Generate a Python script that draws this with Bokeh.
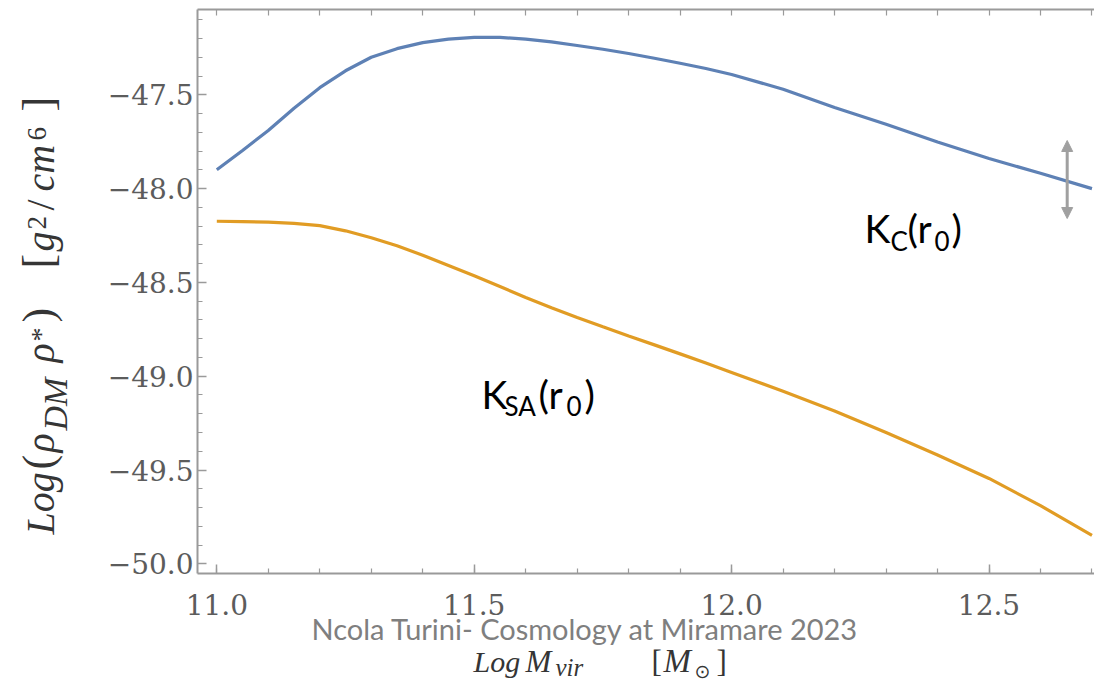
from math import pi
from bokeh.plotting import figure
from bokeh.models import (LinearAxis, Range1d, FixedTicker, Label, Arrow, NormalHead)
from bokeh.embed import file_html
from bokeh.resources import INLINE

# ---------------- data ----------------
kc_logm = [11.0, 11.05, 11.1, 11.15, 11.2, 11.25, 11.3, 11.35, 11.4, 11.45, 11.5, 11.55,
           11.6, 11.65, 11.7, 11.75, 11.8, 11.85, 11.9, 11.95, 12.0, 12.1, 12.2, 12.3,
           12.4, 12.5, 12.6, 12.7]
kc_val = [-47.90, -47.797, -47.69, -47.572, -47.462, -47.372, -47.30, -47.254, -47.222,
          -47.203, -47.194, -47.194, -47.203, -47.218, -47.237, -47.257, -47.28, -47.305,
          -47.332, -47.36, -47.392, -47.47, -47.568, -47.657, -47.752, -47.84, -47.918, -48.0]

ksa_logm = [11.0, 11.05, 11.1, 11.15, 11.2, 11.25, 11.3, 11.35, 11.4, 11.45, 11.5, 11.55,
            11.6, 11.65, 11.7, 11.75, 11.8, 11.85, 11.9, 11.95, 12.0, 12.1, 12.2, 12.3,
            12.4, 12.5, 12.6, 12.7]
ksa_val = [-48.174, -48.176, -48.179, -48.185, -48.197, -48.225, -48.262, -48.305, -48.355,
           -48.41, -48.465, -48.522, -48.58, -48.635, -48.687, -48.737, -48.786, -48.833,
           -48.881, -48.93, -48.98, -49.08, -49.185, -49.30, -49.42, -49.545, -49.69, -49.848]

x_ticks = [11.0, 11.5, 12.0, 12.5]
x_tick_labels = ["11.0", "11.5", "12.0", "12.5"]
y_ticks = [-50.0, -49.5, -49.0, -48.5, -48.0, -47.5]
y_tick_labels = ["\u221250.0", "\u221249.5", "\u221249.0", "\u221248.5", "\u221248.0", "\u221247.5"]
x_minor = [k / 10 for k in range(109, 128)]
y_minor = [k / 10 for k in range(-501, -469)]

footer_text = "Ncola Turini- Cosmology at Miramare 2023"

# ---------------- geometry (picture pixels) ----------------
W, H = 1094, 682
BL, BT, BB = 197, 9, 109
X0, X1 = 10.9625, 12.7049
Y0, Y1 = -50.0517, -47.0453
FW, FH = W - BL, H - BT - BB
SX = FW / (X1 - X0)
SY = FH / (Y1 - Y0)
K_BASE = 0.36  # observed baseline drop of Label text, in em


def dx(px):
    return X0 + (px - BL) / SX


def dy(py):
    return Y1 - (py - BT) / SY


AX = "#9a9a9a"
TICK_TXT = "#5c5c5c"
TITLE_TXT = "#353535"

p = figure(width=W, height=H, x_range=Range1d(X0, X1), y_range=Range1d(Y0, Y1),
           output_backend="svg", toolbar_location=None,
           min_border_left=BL, min_border_right=0, min_border_top=BT, min_border_bottom=BB)
p.outline_line_color = None
p.grid.visible = False
p.background_fill_color = "white"
p.border_fill_color = "white"


def style_axis(ax, ticks, minor, labels):
    ax.ticker = FixedTicker(ticks=ticks, minor_ticks=minor)
    ax.axis_line_color = AX
    ax.axis_line_width = 2
    ax.major_tick_line_color = AX
    ax.major_tick_line_width = 1.5
    ax.major_tick_in = 9
    ax.major_tick_out = 0
    ax.minor_tick_line_color = AX
    ax.minor_tick_line_width = 1.2
    ax.minor_tick_in = 5
    ax.minor_tick_out = 0
    if labels is not None:
        ax.major_label_overrides = {t: s for t, s in zip(ticks, labels)}
        ax.major_label_text_font = "DejaVu Serif"
        ax.major_label_text_font_size = "28px"
        ax.major_label_text_color = TICK_TXT


xa = p.xaxis[0]
style_axis(xa, x_ticks, x_minor, x_tick_labels)
xa.major_label_standoff = 20
ya = p.yaxis[0]
style_axis(ya, y_ticks, y_minor, y_tick_labels)
ya.major_label_standoff = 4

top = LinearAxis()
style_axis(top, [], x_minor, None)
top.minor_tick_in = 6
top.major_label_standoff = 0
p.add_layout(top, "above")

# ---------------- curves ----------------
p.line(kc_logm, kc_val, line_color="#5E81B5", line_width=3.2)
p.line(ksa_logm, ksa_val, line_color="#E19C24", line_width=3.2)

# ---------------- arrow ----------------
arr_x = dx(1066.7)
p.add_layout(Arrow(x_start=arr_x, y_start=dy(218), x_end=arr_x, y_end=dy(140),
                   line_color="#a0a0a0", line_width=3,
                   start=NormalHead(size=11, fill_color="#a0a0a0", line_color="#a0a0a0"),
                   end=NormalHead(size=11, fill_color="#a0a0a0", line_color="#a0a0a0")))


def lab(fig, conv, text, px, py, size, font, style="normal", color="black", rotated=False):
    # px, py: wanted baseline-start point in picture pixels
    if rotated:
        px = px - K_BASE * size
    else:
        py = py - K_BASE * size
    x, y = conv(px, py)
    fig.add_layout(Label(x=x, y=y, text=text, text_font=font,
                         text_font_size=f"{size}px", text_font_style=style, text_color=color,
                         text_align="left", text_baseline="alphabetic",
                         angle=pi / 2 if rotated else 0.0))


def data_conv(px, py):
    return dx(px), dy(py)


# curve labels (inside the frame)
for t, px, py, s in [("K", 864, 242, 39), ("C", 890, 250, 26), ("(r", 907, 242, 39),
                     ("0", 934, 250, 26), (")", 951, 242, 39)]:
    lab(p, data_conv, t, px, py, s, "Lato")
for t, px, py, s in [("K", 481, 408, 39), ("SA", 504, 415, 26), ("(r", 538, 408, 39),
                     ("0", 566, 415, 26), (")", 584, 408, 39)]:
    lab(p, data_conv, t, px, py, s, "Lato")

# ---------------- transparent overlay (separate root) for texts outside the frame ----------------
ov = figure(width=W, height=H, x_range=Range1d(0, W), y_range=Range1d(H, 0),
            output_backend="svg", toolbar_location=None, min_border=0,
            x_axis_type=None, y_axis_type=None)
ov.outline_line_color = None
ov.grid.visible = False
ov.background_fill_color = None
ov.border_fill_color = None


def px_conv(px, py):
    return px, py


# footer
lab(ov, px_conv, footer_text, 311, 638, 29, "Lato", color="#7f7f7f")

# x-axis title: Log M_vir [M_sun]
SERIF = "Liberation Serif"
for t, px, py, s, st, f in [("Log", 473, 672, 30, "italic", SERIF),
                            ("M", 525, 672, 31, "italic", SERIF),
                            ("vir", 555, 676, 25, "italic", SERIF),
                            ("[", 651, 672, 31, "normal", SERIF),
                            ("M", 663, 672, 33, "italic", SERIF),
                            ("\u2299", 694, 677, 19, "normal", "DejaVu Sans"),
                            ("]", 716, 672, 31, "normal", SERIF)]:
    lab(ov, px_conv, t, px, py, s, f, style=st, color=TITLE_TXT)

# y-axis title: Log(rho_DM rho_*) [g^2/cm^6], rotated (start = lower end of each piece)
for t, py, px, s, st, f in [("Log", 534, 54, 40, "italic", SERIF),
                            ("(", 469, 54, 44, "normal", SERIF),
                            ("\u03c1", 452, 54, 40, "italic", SERIF),
                            ("DM", 430, 67, 34, "italic", SERIF),
                            ("\u03c1", 362, 54, 40, "italic", SERIF),
                            ("*", 341, 50, 28, "normal", SERIF),
                            (")", 322, 54, 44, "normal", SERIF),
                            ("[", 268, 54, 44, "normal", SERIF),
                            ("g", 251, 54, 40, "italic", SERIF),
                            ("2", 229, 46, 27, "normal", SERIF),
                            ("/", 210, 54, 40, "normal", SERIF),
                            ("cm", 191, 54, 40, "italic", SERIF),
                            ("6", 140, 46, 27, "normal", SERIF),
                            ("]", 111, 54, 44, "normal", SERIF)]:
    lab(ov, px_conv, t, px, py, s, f, style=st, color=TITLE_TXT, rotated=True)

ov.styles = {"position": "absolute", "left": "0px", "top": "0px"}

open("out.html", "w").write(file_html([p, ov], INLINE))
